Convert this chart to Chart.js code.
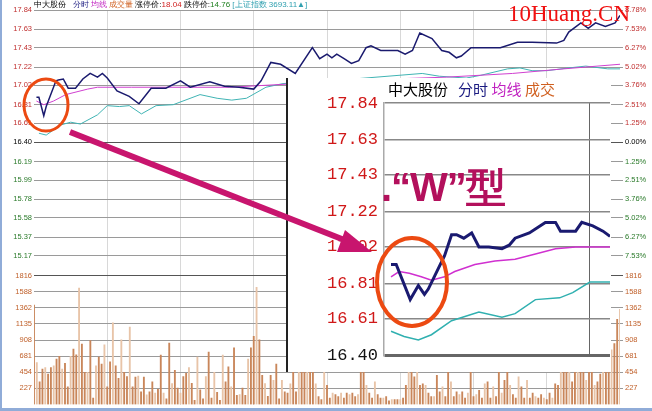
<!DOCTYPE html>
<html><head><meta charset="utf-8">
<script src="https://cdn.jsdelivr.net/npm/chart.js"></script>
<style>
  body{margin:0;background:#fff;font-family:"Liberation Sans",Arial,sans-serif}
  #wrap{position:relative;width:652px;height:411px;overflow:hidden;background:#fff}
  canvas{position:absolute}
  #hdr{position:absolute;left:34px;top:0;font-size:8px;white-space:nowrap;line-height:10px}
  #inset{position:absolute;left:286px;top:78px;width:323px;height:294px;background:#fff;
         border-left:2px solid #222;overflow:hidden}
  #ihdr{position:absolute;left:100px;top:2px;font-size:15px;line-height:18px;white-space:nowrap;font-family:"Noto Sans CJK SC"}
  #wtxt{position:absolute;left:381px;top:160px;font:bold 40px "Liberation Sans",Arial;color:#b3105c;letter-spacing:-1px}
  #mark{position:absolute;left:508px;top:1px;font:23px "Liberation Serif",serif;color:#f01010}
</style></head>
<body><div id="wrap">
<canvas id="main" width="652" height="411" style="left:0;top:0"></canvas>
<div id="hdr"><span>中大股份</span>&nbsp;&nbsp;&nbsp;<span style="color:#1a1a80">分时</span>&nbsp;<span style="color:#c020c0">均线</span>&nbsp;<span style="color:#d06020">成交量</span>&nbsp;涨停价:<span style="color:#d02020">18.04</span>&nbsp;跌停价:<span style="color:#208020">14.76</span>&nbsp;<span style="color:#30a0b0">[上证指数 3693.11▲]</span></div>
<div id="inset">
  <canvas id="zoomc" width="323" height="294" style="left:0;top:0"></canvas>
  <div id="ihdr"><span>中大股份</span>&nbsp;&nbsp;&nbsp;<span style="color:#1a1a80">分时</span>&nbsp;<span style="color:#c020c0">均线</span>&nbsp;<span style="color:#d06020">成交</span></div>
</div>
<canvas id="over" width="652" height="411" style="left:0;top:0"></canvas>
<div id="wtxt">.“W”型</div>
<div id="mark">10Huang.CN</div>
</div>
<script>
/* ---------- main chart data (minutes 0..240) */
const priceMin = [1,2,4,5,9,10,12,14,17,20,23,26,28,30,34,39,43,48,54,60,64,72,78,84,90,93,97,101,107,114,117,120,122,124,127,130,133,136,138,142,146,149,152,155,158,163,167,170,173,175,179,184,191,198,204,214,217,219,224,227,230,234,238,240];
const priceVal = [16.89,16.89,16.69,16.79,17.07,17.08,17.09,16.99,16.99,17.09,17.15,17.11,17.15,17.10,16.96,16.90,16.82,16.99,16.99,17.07,17.00,17.06,17.01,17.00,16.98,17.07,17.27,17.25,17.15,17.43,17.31,17.36,17.32,17.36,17.31,17.26,17.29,17.43,17.45,17.40,17.40,17.40,17.36,17.40,17.59,17.53,17.40,17.38,17.32,17.34,17.43,17.43,17.43,17.49,17.49,17.48,17.51,17.60,17.70,17.64,17.70,17.66,17.70,17.78];
const avgMin = [1,4,8,13,22,26,40,80,136,169,196,217,240];
const avgVal = [16.85,16.81,16.85,16.92,16.98,17.00,17.00,17.00,17.08,17.11,17.15,17.20,17.25];
const idxMin = [2,5,11,15,19,26,30,35,39,44,50,57,68,75,81,87,95,102,131,159,166,177,183,194,199,204,210,219,226,235,240];
const idxVal = [16.50,16.48,16.59,16.62,16.60,16.70,16.80,16.79,16.80,16.71,16.80,16.81,16.92,16.88,16.86,16.88,17.00,17.04,17.09,17.15,17.12,17.10,17.13,17.20,17.21,17.18,17.18,17.21,17.23,17.20,17.20];
const volume = [1400,590,320,500,520,430,520,545,640,680,500,580,250,680,780,700,1640,850,455,455,900,90,545,670,570,840,250,600,1150,545,370,910,455,395,1090,250,385,400,180,385,135,180,320,160,215,695,160,80,865,295,480,230,160,395,440,520,300,60,670,205,80,395,740,90,455,170,60,695,320,530,250,800,130,140,230,130,640,800,960,1650,910,410,295,115,410,340,570,80,
  340,180,160,290,600,180,600,700,550,650,600,500,290,110,70,700,270,90,160,140,110,160,90,160,140,160,110,140,600,800,270,160,90,320,140,90,90,110,50,70,70,70,70,90,270,600,900,390,650,270,290,270,160,110,110,410,180,250,110,650,320,110,180,140,180,90,160,600,110,140,200,90,290,320,90,250,110,550,160,340,600,270,140,90,390,250,90,340,90,160,110,90,140,90,70,160,90,290,270,600,700,600,800,320,550,600,650,500,340,550,600,270,320,430,550,600,700,770,860,1200,1340];
const priceTicks = [17.84,17.63,17.43,17.22,17.02,16.81,16.61,16.40,16.19,15.99,15.78,15.58,15.37,15.17];
const pctTicks = ['8.78%','7.53%','6.27%','5.02%','3.76%','2.51%','1.25%','0.00%','1.25%','2.51%','3.76%','5.02%','6.27%','7.53%'];
const volTicks = [1816,1588,1362,1135,908,681,454,227];

/* ---------- inset data (zoomed first ~45 minutes, 0..100 units) */
const zPriceT = [3.1,5.4,11.6,15.2,17.9,19.6,26.8,29.9,32.1,35.3,38.8,42,46.4,52.2,55.4,58,64.3,71.4,75.9,78.1,84.8,87.5,92.4,96.9,100];
const zPriceV = [16.92,16.92,16.72,16.80,16.75,16.78,16.97,17.09,17.09,17.07,17.10,17.02,17.02,17.01,17.03,17.07,17.10,17.16,17.16,17.11,17.11,17.16,17.14,17.11,17.08];
const zAvgT = [3.1,6.7,11.2,16.5,21,26.8,31.3,40.2,49.1,58,67,75.9,84.8,100];
const zAvgV = [16.85,16.88,16.87,16.85,16.83,16.85,16.88,16.92,16.94,16.95,16.98,17.01,17.02,17.02];
const zIdxT = [3.1,8.9,15.2,21,29.9,42,52.2,58,67,77.7,83.5,91.1,94.6,100];
const zIdxV = [16.54,16.51,16.49,16.52,16.60,16.65,16.62,16.64,16.72,16.73,16.76,16.82,16.82,16.82];
const zTicks = [17.84,17.63,17.43,17.22,17.02,16.81,16.61,16.40];

const PMAX = 17.84, PMIN = 13.55, VMAX = 5560;
const volToPrice = v => PMIN + v / VMAX * (PMAX - PMIN);
const pts = (xs, ys) => xs.map((x, i) => ({x, y: ys[i]}));

/* left/right labels: price ticks + volume ticks placed on the price scale */
const leftTicks = priceTicks.map(v => ({value: v, lab: v.toFixed(2), kind: 'p'}))
  .concat(volTicks.map(v => ({value: volToPrice(v), lab: String(v), kind: 'v'})));
function priceColor(i) {
  const t = leftTicks[i]; if (!t) return '#000';
  if (t.kind === 'v') return '#c0602a';
  return i < 7 ? '#c03030' : (i === 7 ? '#000' : '#2a7a2a');
}
const axisY = (pos, labels) => ({
  position: pos, min: PMIN, max: PMAX,
  afterBuildTicks: s => { s.ticks = leftTicks.map(t => ({value: t.value})); },
  afterFit: s => { s.width = pos === 'left' ? 34 : 32; },
  ticks: { font: {size: 7.5}, padding: 2, autoSkip: false,
    color: c => priceColor(c.index),
    callback: (v, i) => labels(i) },
  grid: { color: c => (c.index === 7 || c.index === 14) ? '#555' : '#9a9a9a', lineWidth: 1, drawTicks: pos === 'right', tickLength: 3 },
  border: { display: false }
});

new Chart(document.getElementById('main'), {
  data: { datasets: [
    { type: 'line', data: pts(priceMin, priceVal), borderColor: '#1a1a6e', borderWidth: 1.5, pointRadius: 0, yAxisID: 'y' },
    { type: 'line', data: pts(avgMin, avgVal), borderColor: '#d040d0', borderWidth: 1, pointRadius: 0, yAxisID: 'y' },
    { type: 'line', data: pts(idxMin, idxVal), borderColor: '#40b4b4', borderWidth: 1, pointRadius: 0, yAxisID: 'y' },
    { type: 'bar', data: volume.map((v, i) => ({x: i * 240 / (volume.length - 1), y: v})),
      backgroundColor: c => (c.dataIndex % 3 === 1) ? '#e8c4a8' : '#c9865a', barThickness: 1.2, yAxisID: 'v' }
  ]},
  options: {
    animation: false, responsive: false, events: [],
    layout: { padding: { top: 10, bottom: 0, left: 0, right: 0 } },
    plugins: { legend: { display: false }, tooltip: { enabled: false } },
    scales: {
      x: { type: 'linear', min: 0, max: 240, offset: false,
        afterBuildTicks: s => { s.ticks = [30,60,90,120,150,180,210].map(v => ({value: v})); },
        afterFit: s => { s.height = 0; s.paddingLeft = 0; s.paddingRight = 0; },
        ticks: { display: false }, border: { display: false },
        grid: { color: '#d8d8d8', borderDash: [2, 2], drawTicks: false, offset: false } },
      y: axisY('left', i => leftTicks[i] ? leftTicks[i].lab : ''),
      yr: axisY('right', i => leftTicks[i] ? (leftTicks[i].kind === 'p' ? pctTicks[i] : leftTicks[i].lab) : ''),
      v: { display: false, min: 0, max: VMAX }
    }
  }
});

/* ---------- inset chart */
new Chart(document.getElementById('zoomc'), {
  type: 'line',
  data: { datasets: [
    { data: pts(zPriceT, zPriceV), borderColor: '#1a1a70', borderWidth: 3, pointRadius: 0 },
    { data: pts(zAvgT, zAvgV), borderColor: '#d030d0', borderWidth: 1.5, pointRadius: 0 },
    { data: pts(zIdxT, zIdxV), borderColor: '#30b0b0', borderWidth: 1.5, pointRadius: 0 }
  ]},
  options: {
    animation: false, responsive: false, events: [],
    layout: { padding: { top: 25, bottom: 2, left: 0, right: 1 } },
    plugins: { legend: { display: false }, tooltip: { enabled: false } },
    scales: {
      x: { type: 'linear', min: 0, max: 100,
        afterBuildTicks: s => { s.ticks = [{value: 91}]; },
        afterFit: s => { s.height = 5; s.paddingLeft = 0; s.paddingRight = 0; },
        ticks: { display: false },
        grid: { color: '#666', borderDash: [1, 2], drawTicks: false },
        border: { display: false } },
      y: { min: 16.40, max: 17.84,
        afterBuildTicks: s => { s.ticks = zTicks.map(v => ({value: v})); },
        afterFit: s => { s.width = 96; },
        ticks: { font: {family: 'Liberation Mono', size: 17}, padding: 6,
          color: c => c.index === 7 ? '#111' : '#d01818',
          callback: v => v.toFixed(2) },
        grid: { color: c => c.index === 7 ? '#666' : '#888', lineWidth: c => c.index === 7 ? 3 : 1.5, drawTicks: false },
        border: { display: true, color: '#aaa', width: 1.5 } }
    }
  }
});

/* ---------- annotations: circles + arrow */
const g = document.getElementById('over').getContext('2d');
g.strokeStyle = '#ec4a12';
g.lineWidth = 3;
g.beginPath(); g.ellipse(46, 105, 22, 26, 0, 0, Math.PI * 2); g.stroke();
g.lineWidth = 4;
g.beginPath(); g.ellipse(412, 282, 35, 44, 0, 0, Math.PI * 2); g.stroke();
g.strokeStyle = g.fillStyle = '#c8156e';
g.lineWidth = 6;
g.beginPath(); g.moveTo(70, 132); g.lineTo(352, 243); g.stroke();
g.beginPath(); g.moveTo(372, 252); g.lineTo(345, 230); g.lineTo(337, 252); g.closePath(); g.fill();
g.fillStyle = '#90acd8'; g.fillRect(0, 408, 652, 3); g.fillRect(0, 0, 2, 411);
</script>
</body></html>
